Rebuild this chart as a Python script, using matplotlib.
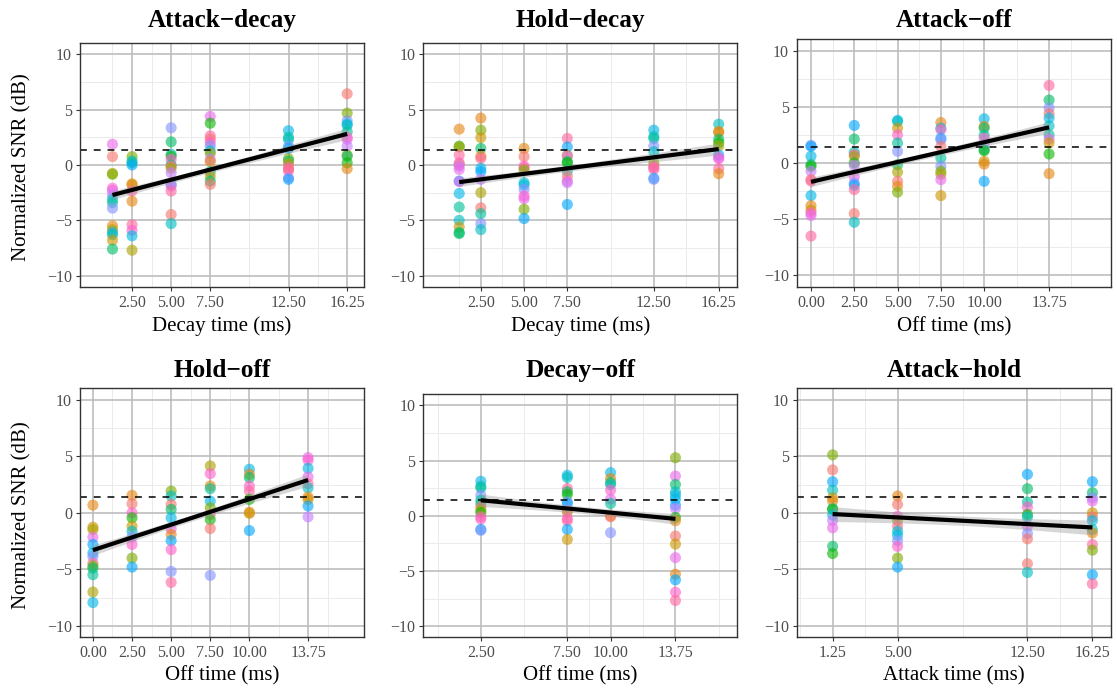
import numpy as np
import matplotlib
matplotlib.use('Agg')
import matplotlib.pyplot as plt

plt.rcParams['font.family'] = ['Liberation Serif', 'DejaVu Serif']

# ---- data -----------------------------------------------------------------
# each panel: x levels, SNR values per level, participant index per value
ad_levels = [1.25, 2.5, 5, 7.5, 12.5, 16.25]
ad_snr = [
    [1.88, 0.76, -0.76, -0.85, -2.1, -2.3, -2.7, -3.1, -3.4, -3.9, -5.5, -5.85, -6.1, -6.3, -6.8, -7.6],
    [0.76, 0.36, 0.2, 0.0, -1.7, -1.8, -2.36, -3.27, -5.4, -5.9, -6.4, -7.7],
    [3.36, 2.09, 0.97, 0.8, 0.5, 0.0, -0.1, -0.3, -0.7, -1.75, -1.9, -2.36, -4.48, -5.3],
    [4.39, 3.78, 2.63, 2.33, 2.03, 1.72, 1.27, 1.03, 0.5, 0.3, -0.6, -1.0, -1.45, -1.75],
    [3.1, 2.5, 2.3, 1.7, 1.5, 0.57, 0.36, 0.1, -0.24, -0.4, -0.5, -1.15, -1.3],
    [6.44, 4.69, 4.0, 3.7, 3.6, 3.0, 2.5, 2.33, 1.7, 0.9, 0.8, 0.2, -0.33],
]
ad_grp = [
    [13, 0, 3, 4, 14, 13, 12, 8, 7, 11, 1, 3, 9, 8, 2, 6],
    [4, 8, 7, 10, 2, 1, 15, 1, 15, 14, 9, 3],
    [11, 6, 8, 5, 14, 7, 0, 3, 12, 10, 13, 15, 0, 8],
    [13, 5, 15, 0, 14, 11, 8, 3, 12, 1, 7, 2, 6, 0],
    [9, 7, 8, 11, 10, 4, 6, 2, 14, 0, 15, 12, 10],
    [0, 4, 11, 9, 8, 7, 15, 13, 12, 3, 6, 5, 1],
]

hd_levels = [1.25, 2.5, 5, 7.5, 12.5, 16.25]
hd_snr = [
    [3.24, 1.7, 1.63, 0.9, 0.2, 0.05, -0.1, -0.4, -1.45, -1.5, -2.57, -3.8, -5.0, -5.6, -6.1, -6.2],
    [4.24, 3.15, 2.48, 1.5, 0.8, 0.6, -0.3, -0.6, -1.3, -2.5, -3.87, -4.4, -5.3, -5.84],
    [1.5, 0.76, -0.1, -0.24, -0.45, -1.6, -1.8, -2.2, -2.8, -3.05, -4.0, -4.84],
    [2.4, 1.63, 0.88, 0.8, 0.3, 0.2, -0.55, -1.0, -1.45, -1.6, -3.57],
    [3.15, 2.57, 2.4, 1.72, 1.2, 0.2, -0.1, -0.24, -0.4, -1.2, -1.3],
    [3.69, 3.03, 2.95, 2.33, 2.0, 1.72, 0.9, 0.66, 0.57, -0.33, -0.79],
]
hd_grp = [
    [1, 5, 3, 15, 14, 0, 12, 13, 10, 13, 9, 7, 8, 2, 6, 6],
    [1, 4, 2, 6, 1, 15, 9, 10, 12, 3, 0, 7, 11, 8],
    [1, 0, 14, 15, 4, 8, 9, 11, 14, 13, 4, 10],
    [15, 10, 3, 13, 6, 5, 8, 0, 14, 12, 10],
    [9, 8, 7, 11, 8, 4, 0, 14, 15, 10, 11],
    [8, 2, 1, 6, 5, 3, 10, 14, 13, 15, 1],
]

ao_levels = [0, 2.5, 5, 7.5, 10, 13.75]
ao_snr = [
    [1.57, 1.48, 0.6, -0.15, -0.3, -0.74, -1.48, -1.6, -2.9, -3.8, -4.2, -4.44, -4.67, -6.5],
    [3.34, 2.13, 0.95, 0.74, 0.6, 0.0, -0.2, -1.24, -1.78, -1.98, -2.37, -4.5, -5.27],
    [3.79, 3.7, 3.1, 2.5, 1.78, 1.04, -0.15, -0.8, -1.63, -2.07, -2.6],
    [3.6, 3.1, 2.96, 2.2, 2.07, 1.48, 0.44, -0.3, -0.74, -1.0, -1.48, -2.9],
    [3.93, 3.25, 3.1, 2.46, 2.2, 1.62, 1.18, 1.1, 0.15, -0.1, -1.63],
    [6.9, 5.6, 4.9, 4.4, 4.0, 3.3, 2.5, 2.13, 1.78, 0.8, -0.95],
]
ao_grp = [
    [11, 10, 9, 6, 5, 12, 0, 15, 9, 1, 2, 14, 13, 15],
    [10, 6, 7, 14, 3, 5, 12, 13, 11, 10, 15, 0, 8],
    [9, 8, 2, 14, 7, 11, 6, 3, 0, 1, 4],
    [1, 8, 14, 10, 11, 0, 7, 11, 4, 3, 13, 2],
    [9, 1, 6, 7, 14, 12, 8, 5, 2, 1, 10],
    [15, 6, 11, 0, 9, 8, 7, 13, 2, 5, 1],
]

ho_levels = [0, 2.5, 5, 7.5, 10, 13.75]
ho_snr = [
    [0.68, -1.27, -1.48, -2.16, -2.8, -3.55, -3.85, -4.44, -4.7, -4.9, -5.47, -7.0, -7.93],
    [1.54, 0.8, 0.0, -0.44, -1.18, -1.63, -2.13, -2.8, -4.0, -4.8],
    [1.92, 1.48, 0.74, 0.3, -0.44, -1.42, -1.92, -2.46, -3.25, -5.18, -6.15],
    [4.14, 3.46, 2.37, 2.13, 1.04, 0.44, -0.15, -0.6, -1.39, -5.53],
    [3.85, 3.4, 3.1, 2.37, 1.92, 1.18, 0.05, -0.05, -1.57],
    [4.88, 4.64, 3.93, 3.17, 2.57, 2.2, 1.39, 1.18, 0.6, -0.36],
]
ho_grp = [
    [1, 2, 3, 13, 10, 9, 11, 15, 4, 6, 7, 3, 9],
    [1, 0, 14, 5, 2, 8, 11, 14, 4, 10],
    [4, 8, 0, 6, 9, 13, 1, 10, 14, 11, 15],
    [3, 14, 1, 7, 9, 4, 15, 5, 0, 11],
    [9, 1, 6, 14, 15, 5, 1, 2, 10],
    [13, 14, 9, 13, 15, 8, 1, 2, 10, 12],
]

do_levels = [2.5, 7.5, 10, 13.75]
do_snr = [
    [3.13, 2.68, 2.53, 1.86, 1.41, 1.11, 0.81, 0.51, 0.3, -0.09, -0.3, -1.23, -1.32],
    [3.67, 3.46, 2.47, 2.17, 1.92, 1.26, 1.11, 0.51, 0.36, -0.24, -0.45, -1.23, -2.14],
    [3.91, 3.37, 3.0, 2.83, 2.32, 1.5, 1.11, 0.0, -0.09, -1.53],
    [5.26, 3.6, 2.83, 2.17, 1.86, 1.5, 0.96, 0.66, -0.15, -0.45, -1.83, -2.56, -3.79, -5.29, -5.8, -6.92, -7.67],
]
do_grp = [
    [9, 8, 7, 11, 7, 7, 0, 3, 5, 15, 14, 10, 11],
    [9, 8, 15, 6, 5, 11, 10, 12, 2, 14, 15, 10, 2],
    [9, 1, 6, 8, 14, 13, 7, 1, 0, 11],
    [4, 13, 6, 8, 9, 9, 10, 12, 5, 1, 0, 2, 13, 1, 10, 14, 15],
]

ah_levels = [1.25, 5, 12.5, 16.25]
ah_snr = [
    [5.12, 3.79, 2.75, 2.0, 1.33, 1.04, 0.36, 0.3, -0.2, -0.68, -1.33, -2.96, -3.6],
    [1.48, 0.74, -0.3, -0.68, -1.18, -1.63, -1.98, -2.46, -2.96, -4.0, -4.8],
    [3.4, 2.13, 0.95, 0.5, -0.15, -0.38, -1.18, -1.83, -2.3, -4.5, -5.27],
    [2.75, 1.78, 1.33, 1.04, 0.0, -0.36, -0.68, -1.48, -1.78, -2.8, -3.3, -5.47, -6.27],
]
ah_grp = [
    [4, 0, 10, 8, 2, 1, 7, 5, 9, 12, 13, 6, 5],
    [1, 0, 14, 3, 15, 8, 9, 11, 14, 4, 10],
    [10, 6, 7, 14, 5, 8, 13, 11, 0, 0, 8],
    [10, 6, 11, 13, 2, 0, 9, 8, 1, 15, 4, 10, 15],
]

titles = ['Attack\u2212decay', 'Hold\u2212decay', 'Attack\u2212off',
          'Hold\u2212off', 'Decay\u2212off', 'Attack\u2212hold']
xlabels = ['Decay time (ms)', 'Decay time (ms)', 'Off time (ms)',
           'Off time (ms)', 'Off time (ms)', 'Attack time (ms)']
xbreaks = [[2.5, 5, 7.5, 12.5, 16.25], [2.5, 5, 7.5, 12.5, 16.25],
           [0, 2.5, 5, 7.5, 10, 13.75], [0, 2.5, 5, 7.5, 10, 13.75],
           [2.5, 7.5, 10, 13.75], [1.25, 5, 12.5, 16.25]]
reference_snr = 1.4


def hue_pal(n, c=100.0, l=65.0):
    """ggplot2-style evenly spaced hues, converted from polar Luv to sRGB."""
    hues = np.linspace(15, 375, n + 1)[:-1]
    xn, yn, zn = 95.047, 100.0, 108.883
    un = 4 * xn / (xn + 15 * yn + 3 * zn)
    vn = 9 * yn / (xn + 15 * yn + 3 * zn)
    out = []
    for h in hues:
        u_ = c * np.cos(np.deg2rad(h))
        v_ = c * np.sin(np.deg2rad(h))
        y = yn * ((l + 16) / 116) ** 3
        u = u_ / (13 * l) + un
        v = v_ / (13 * l) + vn
        x = 9 * y * u / (4 * v)
        z = -x / 3 - 5 * y + 3 * y / v
        xyz = np.array([x, y, z]) / 100
        m = np.array([[3.2404542, -1.5371385, -0.4985314],
                      [-0.9692660, 1.8760108, 0.0415560],
                      [0.0556434, -0.2040259, 1.0572252]])
        rgb = m @ xyz
        rgb = np.where(rgb <= 0.0031308, 12.92 * rgb,
                       1.055 * np.power(np.clip(rgb, 0, None), 1 / 2.4) - 0.055)
        out.append(tuple(np.clip(rgb, 0, 1)))
    return out


def minor_breaks(b, lim):
    b = list(b)
    bd = b[1] - b[0]
    if lim[0] < b[0]:
        b = [b[0] - bd] + b
    if lim[1] > b[-1]:
        b = b + [b[-1] + bd]
    mids = [(a + c) / 2 for a, c in zip(b[:-1], b[1:])]
    return [m for m in sorted(set(b + mids))
            if lim[0] <= m <= lim[1] and m not in b]


def within_se(x, y, g):
    """Residual SD after removing participant means (fixed-effects model)."""
    xd = x.copy()
    yd = y.copy()
    for k in np.unique(g):
        sel = g == k
        xd[sel] -= x[sel].mean()
        yd[sel] -= y[sel].mean()
    slope = np.sum(xd * yd) / np.sum(xd ** 2)
    resid = yd - slope * xd
    dof = len(x) - len(np.unique(g)) - 1
    return np.sqrt(np.sum(resid ** 2) / dof)


def draw_panel(ax, levels, snr, grp, breaks, colors):
    x = np.concatenate([[lv] * len(col) for lv, col in zip(levels, snr)])
    y = np.concatenate(snr)
    g = np.concatenate(grp).astype(int)
    ax.scatter(x, y, s=64, c=[colors[i] for i in g], alpha=0.62,
               linewidths=0, zorder=3)

    # linear fit, band drawn at +/- 1 standard error of the mean prediction
    coef = np.polyfit(x, y, 1)
    xs = np.linspace(x.min(), x.max(), 80)
    fit = np.polyval(coef, xs)
    n = len(x)
    se = within_se(x, y, g)
    sxx = np.sum((x - x.mean()) ** 2)
    band = 1.0 * se * np.sqrt(1 / n + (xs - x.mean()) ** 2 / sxx)
    ax.fill_between(xs, fit - band, fit + band, color='#999999', alpha=0.4,
                    linewidth=0, zorder=4)
    ax.plot(xs, fit, color='black', lw=3.0, zorder=5, solid_capstyle='butt')
    ax.axhline(reference_snr, color='black', lw=1.1, ls=(0, (4.5, 4.5)),
               zorder=6)

    xlim = (-0.825, 17.325)
    ylim = (-11.0, 11.0)
    ax.set_xlim(*xlim)
    ax.set_ylim(*ylim)
    ax.set_xticks(breaks)
    ax.set_xticklabels([f'{b:.2f}' for b in breaks])
    yt = [-10, -5, 0, 5, 10]
    ax.set_yticks(yt)
    ax.set_yticklabels([f'{v}'.replace('-', '\u2212') for v in yt])
    for m in minor_breaks(breaks, xlim):
        ax.axvline(m, color='#EBEBEB', lw=0.7, zorder=0)
    for m in [-7.5, -2.5, 2.5, 7.5]:
        ax.axhline(m, color='#EBEBEB', lw=0.7, zorder=0)
    for b in breaks:
        ax.axvline(b, color='#BDBDBD', lw=1.2, zorder=1)
    for b in yt:
        ax.axhline(b, color='#BDBDBD', lw=1.2, zorder=1)
    for sp in ax.spines.values():
        sp.set_color('#333333')
        sp.set_linewidth(1.0)
        sp.set_zorder(7)
    ax.tick_params(axis='both', colors='#333333', length=3.2, width=0.8,
                   labelsize=11.5, labelcolor='#4D4D4D', pad=2.5)


W, H = 1117, 689
fig = plt.figure(figsize=(W / 100, H / 100), dpi=100)
fig.patch.set_facecolor('white')

# panel boxes in pixels: x0, x1, y0 (top), y1 (bottom)
boxes = [(80, 364, 43.3, 286.7), (423.3, 737.3, 43.3, 286.7),
         (796.7, 1111, 39.3, 286.7), (80, 364, 388.3, 637.3),
         (423.3, 737.3, 394.3, 637.3), (796.7, 1111, 388.3, 637.3)]
title_base = [27, 27, 27, 377, 377, 377]
xlab_base = [331.5, 331.5, 331.5, 680.5, 680.5, 680.5]

panels = [(ad_levels, ad_snr, ad_grp), (hd_levels, hd_snr, hd_grp),
          (ao_levels, ao_snr, ao_grp), (ho_levels, ho_snr, ho_grp),
          (do_levels, do_snr, do_grp), (ah_levels, ah_snr, ah_grp)]
colors = hue_pal(16)

for i, (lv, snr, grp) in enumerate(panels):
    x0, x1, y0, y1 = boxes[i]
    ax = fig.add_axes([x0 / W, 1 - y1 / H, (x1 - x0) / W, (y1 - y0) / H])
    draw_panel(ax, lv, snr, grp, xbreaks[i], colors)
    cx = (x0 + x1) / 2
    fig.text(cx / W, 1 - title_base[i] / H, titles[i], ha='center',
             va='baseline', fontsize=18.2, fontweight='bold')
    fig.text(cx / W, 1 - xlab_base[i] / H, xlabels[i], ha='center',
             va='baseline', fontsize=15)
    if i % 3 == 0:
        fig.text(22 / W, 1 - ((y0 + y1) / 2 + 2) / H, 'Normalized SNR (dB)',
                 ha='center', va='center', rotation=90, fontsize=15)

fig.savefig('out.png', dpi=100, facecolor='white')
